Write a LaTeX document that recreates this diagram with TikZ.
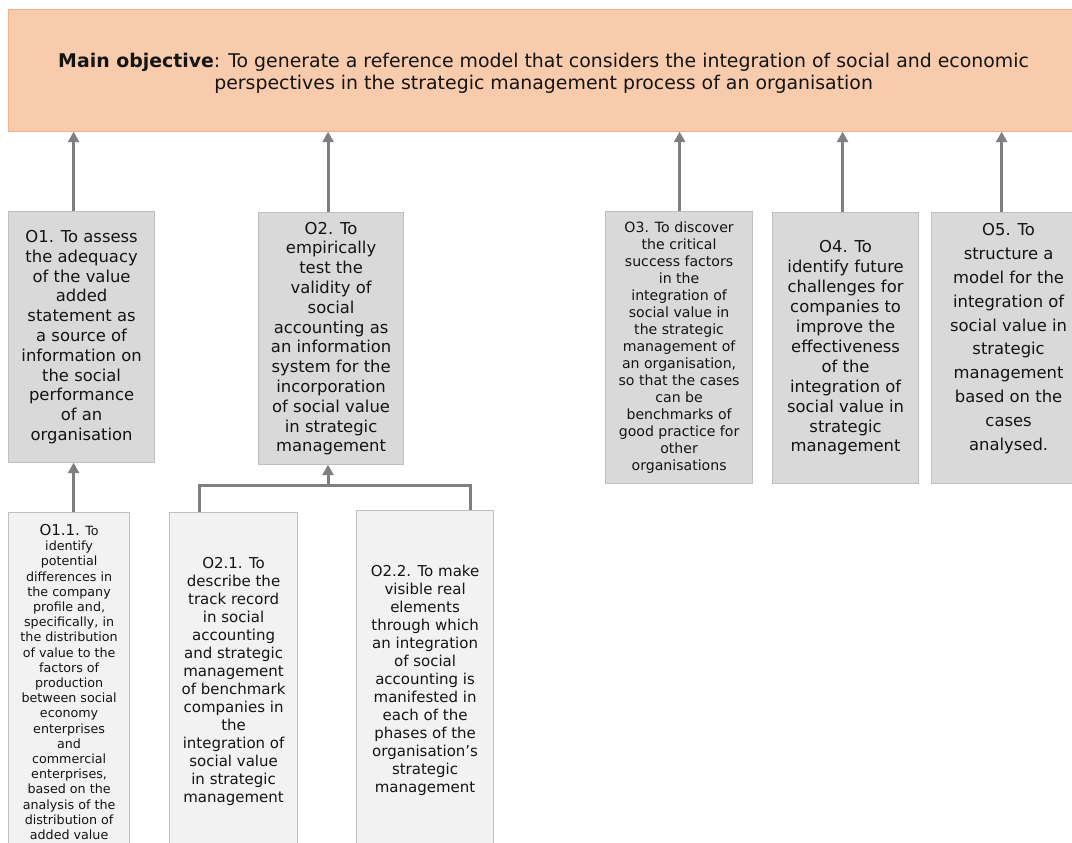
\documentclass[tikz,border=0pt]{standalone}
\usepackage{fontspec}
\setmainfont{DejaVu Sans}
\usetikzlibrary{arrows.meta}
\definecolor{mainfill}{HTML}{F8CBAD}
\definecolor{mainedge}{HTML}{F4B183}
\definecolor{objfill}{HTML}{D9D9D9}
\definecolor{subfill}{HTML}{F2F2F2}
\definecolor{boxedge}{HTML}{BFBFBF}
\definecolor{linkgray}{HTML}{7F7F7F}
\definecolor{ink}{HTML}{141414}
\tikzset{
  mainbox/.style={draw=mainedge, fill=mainfill, line width=1.2pt, inner sep=0pt,
    minimum width=1070pt, minimum height=122pt, anchor=north west,
    align=center, text=ink, font=\fontsize{18.9}{22}\selectfont},
  objbox/.style={draw=boxedge, fill=objfill, line width=1.2pt, inner sep=0pt,
    anchor=north west, align=center, text=ink},
  subbox/.style={draw=boxedge, fill=subfill, line width=1.2pt, inner sep=0pt,
    anchor=north west, align=center, text=ink},
  link/.style={draw=linkgray, line width=3pt},
  uparrow/.style={link, -{Triangle[width=11pt,length=10.5pt]}, shorten >=-0.5pt},
}
\begin{document}
\begin{tikzpicture}[x=1pt, y=-1pt]
\path[use as bounding box, clip] (0,0) rectangle (1072,843);
\fill[white] (0,0) rectangle (1072,843);

% main objective (the strut lowers the two lines a little inside the box)
\node[mainbox] (main) at (8,9)
  {\rule{0pt}{20.5pt}\textbf{Main objective}: To generate a reference model that considers the integration of social and economic\\
   perspectives in the strategic management process of an organisation};

% first-level objectives
\node[objbox, minimum width=146pt, minimum height=251pt,
      font=\fontsize{16.4}{19.8}\selectfont] (o1) at (8,211)
  {O1. To assess\\the adequacy\\of the value\\added\\statement as\\a source of\\information on\\the social\\performance\\of an\\organisation};
\node[objbox, minimum width=145pt, minimum height=252pt,
      font=\fontsize{16.4}{19.8}\selectfont] (o2) at (258,212)
  {O2. To\\empirically\\test the\\validity of\\social\\accounting as\\an information\\system for the\\incorporation\\of social value\\in strategic\\management};
\node[objbox, minimum width=147pt, minimum height=272pt,
      font=\fontsize{14.1}{17}\selectfont] (o3) at (605,211)
  {O3. To discover\\the critical\\success factors\\in the\\integration of\\social value in\\the strategic\\management of\\an organisation,\\so that the cases\\can be\\benchmarks of\\good practice for\\other\\organisations};
\node[objbox, minimum width=146pt, minimum height=271pt,
      font=\fontsize{16.4}{19.9}\selectfont] (o4) at (772,212)
  {O4. To\\identify future\\challenges for\\companies to\\improve the\\effectiveness\\of the\\integration of\\social value in\\strategic\\management};
\node[objbox, minimum width=154pt, minimum height=271pt] (o5) at (931,212) {};
\node[align=center, text=ink, inner sep=0pt, font=\fontsize{16.4}{23.8}\selectfont]
  at ([yshift=9.5pt]o5.center)
  {O5. To\\structure a\\model for the\\integration of\\social value in\\strategic\\management\\based on the\\cases\\analysed.};

% second-level objectives
\node[subbox, minimum width=121pt, minimum height=339pt,
      font=\fontsize{12.7}{15.2}\selectfont] (o11) at (8,512)
  {{\fontsize{15}{15.2}\selectfont O1.1.} To\\identify\\potential\\differences in\\the company\\profile and,\\specifically, in\\the distribution\\of value to the\\factors of\\production\\between social\\economy\\enterprises\\and\\commercial\\enterprises,\\based on the\\analysis of the\\distribution of\\added value};
\node[subbox, minimum width=128pt, minimum height=338pt,
      font=\fontsize{15}{18}\selectfont] (o21) at (169,512)
  {O2.1. To\\describe the\\track record\\in social\\accounting\\and strategic\\management\\of benchmark\\companies in\\the\\integration of\\social value\\in strategic\\management};
\node[subbox, minimum width=137pt, minimum height=340pt,
      font=\fontsize{15}{18}\selectfont] (o22) at (356,510)
  {O2.2. To make\\visible real\\elements\\through which\\an integration\\of social\\accounting is\\manifested in\\each of the\\phases of the\\organisation’s\\strategic\\management};

% links to the main objective
\draw[uparrow] ([xshift=-8pt]o1.north) -- ([xshift=-8pt]o1.north |- main.south);
\draw[uparrow] ([xshift=-3pt]o2.north) -- ([xshift=-3pt]o2.north |- main.south);
\draw[uparrow] ([xshift=0.5pt]o3.north) -- ([xshift=0.5pt]o3.north |- main.south);
\draw[uparrow] ([xshift=-3pt]o4.north) -- ([xshift=-3pt]o4.north |- main.south);
\draw[uparrow] ([xshift=-7pt]o5.north) -- ([xshift=-7pt]o5.north |- main.south);

% links to the first-level objectives
\draw[uparrow] ([xshift=4.5pt]o11.north) -- ([xshift=4.5pt]o11.north |- o1.south);
\coordinate (join) at (328,485);
\draw[link] ([xshift=-34pt]o21.north) |- (join) -| ([xshift=45.5pt]o22.north);
\draw[uparrow] (join) -- (join |- o2.south);
\end{tikzpicture}
\end{document}
